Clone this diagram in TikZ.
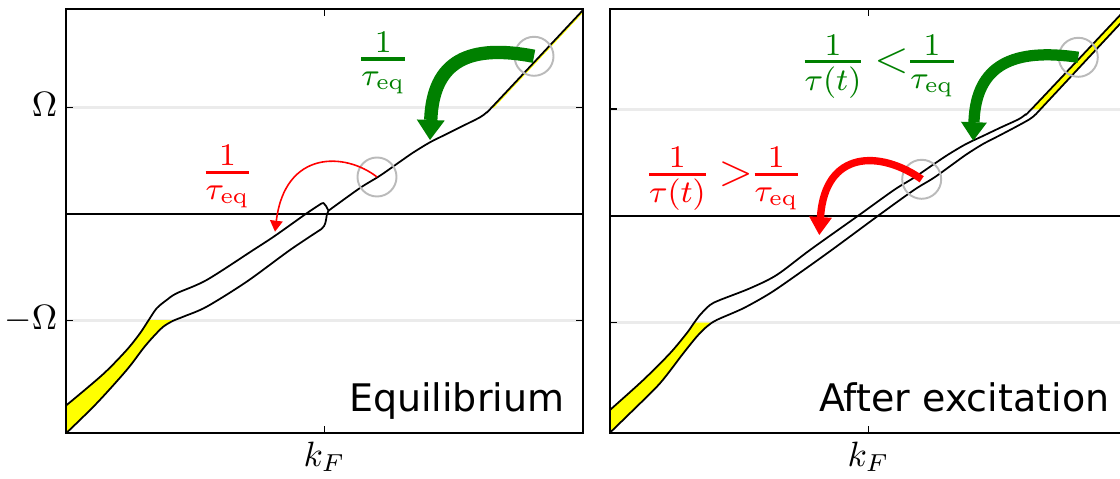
\RequirePackage{fix-cm}
\documentclass[tikz,border=0pt]{standalone}
\usepackage{amsmath}
\usepackage{fontspec}
\newfontfamily\plotsans{DejaVu Sans}
\usetikzlibrary{arrows.meta}
\definecolor{mplgreen}{rgb}{0,0.5,0}
\definecolor{mplred}{rgb}{1,0,0}
\definecolor{mplyellow}{rgb}{1,1,0}
\tikzset{
  axbox/.style={line width=0.55pt},
  band/.style={line width=0.5pt, line join=round},
  fermi/.style={line width=0.45pt},
  omegaline/.style={line width=0.7pt, black!8},
  axtick/.style={line width=0.45pt},
  hole/.style={circle, draw=black!27, line width=0.55pt, minimum size=3.9mm, inner sep=0pt},
  ticklabel/.style={inner sep=0pt, font=\fontsize{10}{12}\selectfont},
  ratelabel/.style={inner sep=0pt, anchor=base west, font=\fontsize{12.8}{15}\selectfont},
  stamp/.style={inner sep=0pt, anchor=base east, font=\plotsans\fontsize{10.8}{13}\selectfont},
  slowbig/.style={mplgreen, line width=3.8pt, -{Triangle[length=2mm,width=2.8mm,line width=0pt]}},
  slowsmall/.style={mplgreen, line width=3.2pt, -{Triangle[length=1.85mm,width=2.6mm,line width=0pt]}},
  fastthin/.style={mplred, line width=0.45pt, -{Triangle[length=1.1mm,width=1.3mm,line width=0pt]}},
  fastthick/.style={mplred, line width=2.1pt, -{Triangle[length=1.8mm,width=2.3mm,line width=0pt]}}
}
\newcommand{\rfrac}[2]{\genfrac{}{}{0.9pt}{1}{#1}{#2}}
% band edges in panel coordinates (1 unit = 1px)
\newcommand{\eqUpper}{plot[smooth] coordinates {(-265,-196) (-257.8,-191) (-221.2,-160) (-197.8,-136) (-184.5,-119.3) (-176.2,-106.7) (-167.8,-94.3) (-157.8,-86) (-147.8,-79.3) (-117.8,-66) (-71.2,-36) (-49.5,-21.8) (-17.8,0.7) (-3,10.5)} -- (-1,11) -- (1.5,8) -- (4,3.3)}
\newcommand{\eqLower}{plot[smooth] coordinates {(-265,-225) (-257.8,-218.7) (-227.8,-189.3) (-197.8,-156) (-181.2,-134.3) (-171.2,-122.7) (-161.2,-112.7) (-151.2,-106.7) (-141.2,-102.7) (-117.8,-92.7) (-77.8,-67.7) (-34.5,-36) (-3,-15)} to[out=40,in=-100] (2.3,-1) -- (4,3.3)}
\newcommand{\eqSingle}{plot[smooth] coordinates {(4,3.3) (35.5,26) (55.5,38.3) (75.5,52.3) (88.8,61.5) (105.5,71.7) (122.2,80) (138.8,88.3) (155.5,96.7) (162.2,101.7) (170.5,110) (259.5,205) (275,221.6)}}
\newcommand{\exLeft}{plot[smooth] coordinates {(-265,-200) (-258.5,-194) (-225.2,-164) (-198.5,-137.3) (-181.8,-117.3) (-175.2,-108) (-168.5,-99) (-158.5,-89) (-148.5,-84) (-118.5,-72.3) (-91.8,-59) (-58.5,-34) (-10,0.5) (25.5,26) (45.5,38.3) (66,52.3) (79.8,61.5) (97,71.7) (114.4,80) (131.8,88.3) (150,96.7) (157.2,101.7) (166,110) (255.5,205) (271,221.6)}}
\newcommand{\exRight}{plot[smooth] coordinates {(-265,-223.5) (-258.5,-216.7) (-235.2,-194) (-208.5,-167.3) (-185.2,-137.3) (-171.8,-120.7) (-161.8,-110.7) (-151.8,-104) (-125.2,-92.3) (-98.5,-77.3) (-71.8,-59) (-36.8,-34) (10,0.5) (45.5,26) (65.5,38.3) (85,52.3) (97.8,61.5) (114,71.7) (130,80) (145.8,88.3) (161,96.7) (167.2,101.7) (175,110) (263.5,205) (279,221.6)}}

\begin{document}
\begin{tikzpicture}[x=0.01cm, y=0.01cm]
\useasboundingbox (0,0) rectangle (1120,479);
\clip (0,0) rectangle (1120,479);

% equilibrium panel
\begin{scope}[shift={(324.5,265)}]
  \draw[omegaline] (-258.5,106.5) -- (258.5,106.5);
  \draw[omegaline] (-258.5,-106.5) -- (258.5,-106.5);
  \begin{scope}
    \clip (-258.5,-219) rectangle (258.5,-106.5);
    \clip \eqUpper -- (4,-300) -- (-265,-300) -- cycle;
    \fill[mplyellow] \eqLower -- (-265,3.3) -- cycle;
  \end{scope}
  \begin{scope}
    \clip (-258.5,106.5) rectangle (258.5,205);
    \draw[mplyellow, line width=0.3pt, shift={(0.9,-0.9)}] \eqSingle;
  \end{scope}
  \draw[fermi] (-258.5,0) -- (258.5,0);
  \begin{scope}
    \clip (-258.5,-219) rectangle (258.5,205);
    \draw[band] \eqUpper;
    \draw[band] \eqLower;
    \draw[band] \eqSingle;
  \end{scope}
  \draw[axbox] (-258.5,-219) rectangle (258.5,205);
  \draw[axtick] (-258.5,106.5) -- +(7,0) (-258.5,-106.5) -- +(7,0)
    (258.5,106.5) -- +(-7,0) (258.5,-106.5) -- +(-7,0)
    (0,205) -- +(0,-7) (0,-219) -- +(0,7);
\end{scope}

% excited panel
\begin{scope}[shift={(868.5,263)}]
  \draw[omegaline] (-258.5,106.7) -- (258.5,106.7);
  \draw[omegaline] (-258.5,-106.7) -- (258.5,-106.7);
  \begin{scope}
    \clip (-258.5,-217) rectangle (258.5,-106.7) (-258.5,106.7) rectangle (258.5,207);
    \clip \exLeft -- (271,-300) -- (-265,-300) -- cycle;
    \fill[mplyellow] \exRight -- (279,300) -- (-265,300) -- cycle;
  \end{scope}
  \draw[fermi] (-258.5,0) -- (258.5,0);
  \begin{scope}
    \clip (-258.5,-217) rectangle (258.5,207);
    \draw[band] \exLeft;
    \draw[band] \exRight;
  \end{scope}
  \draw[axbox] (-258.5,-217) rectangle (258.5,207);
  \draw[axtick] (-258.5,106.7) -- +(7,0) (-258.5,-106.7) -- +(7,0)
    (0,207) -- +(0,-7) (0,-217) -- +(0,7);
\end{scope}

\node[ticklabel, anchor=base east] (omegahi) at (58,362.3) {$\Omega$};
\node[ticklabel, anchor=base east] (omegalo) at (58,149.5) {$-\Omega$};
\node[ticklabel, anchor=base] (kfeq) at (324.5,12.3) {$k_F$};
\node[ticklabel, anchor=base] (kfex) at (868.5,12.3) {$k_F$};
\node[stamp] (eqname) at (565,67.3) {Equilibrium};
\node[stamp] (exname) at (1110,67.3) {After excitation};

\node[ratelabel, text=mplgreen] (slowrateeq) at (356.5,408.7) {$\rfrac{1}{\tau_{\mathrm{eq}}}$};
\node[ratelabel, text=mplred] (fastrateeq) at (200.8,295.4) {$\rfrac{1}{\tau_{\mathrm{eq}}}$};
\node[ratelabel, text=mplgreen] (slowrateex) at (799.8,406) {$\rfrac{1}{\tau(t)}\mkern3.5mu{<}\mkern-1mu\rfrac{1}{\tau_{\mathrm{eq}}}$};
\node[ratelabel, text=mplred] (fastrateex) at (644.1,293.4) {$\rfrac{1}{\tau(t)}\mkern3.5mu{>}\mkern-1mu\rfrac{1}{\tau_{\mathrm{eq}}}$};

\node[hole] (holeeqhi) at (534,422.7) {};
\node[hole] (holeeqlo) at (377,302) {};
\node[hole] (holeexhi) at (1078.3,421.7) {};
\node[hole] (holeexlo) at (921.7,299.7) {};

\coordinate (tipeqhi) at (430,339);
\coordinate (tipeqlo) at (275,247.3);
\coordinate (tipexhi) at (973.3,338.3);
\coordinate (tipexlo) at (819.3,244);

\draw[slowbig] (holeeqhi.center) .. controls (470,435) and (433,419) .. (tipeqhi);
\draw[fastthin] (holeeqlo.center) .. controls (345,327) and (285,329) .. (tipeqlo);
\draw[slowsmall] (holeexhi.center) .. controls (1014,431) and (976,415) .. (tipexhi);
\draw[fastthick] (holeexlo.center) .. controls (880,329) and (825,329) .. (tipexlo);
\end{tikzpicture}
\end{document}
